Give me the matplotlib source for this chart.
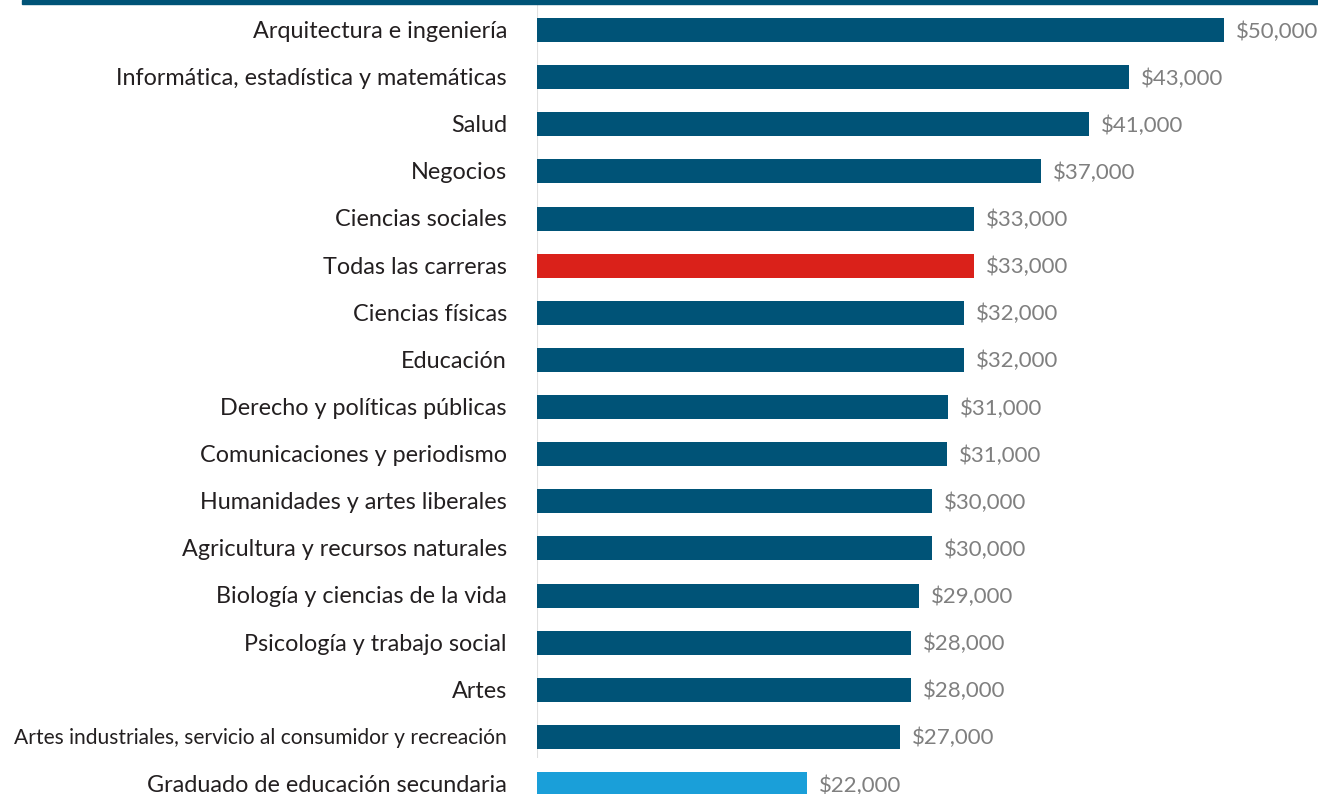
import matplotlib
matplotlib.use("Agg")
import matplotlib.pyplot as plt
from matplotlib.patches import Rectangle

categories = [
    "Arquitectura e ingeniería",
    "Informática, estadística y matemáticas",
    "Salud",
    "Negocios",
    "Ciencias sociales",
    "Todas las carreras",
    "Ciencias físicas",
    "Educación",
    "Derecho y políticas públicas",
    "Comunicaciones y periodismo",
    "Humanidades y artes liberales",
    "Agricultura y recursos naturales",
    "Biología y ciencias de la vida",
    "Psicología y trabajo social",
    "Artes",
    "Artes industriales, servicio al consumidor y recreación",
    "Graduado de educación secundaria",
]
# bar lengths as drawn in the picture
values = [50000, 43100, 40200, 36700, 31800, 31800, 31100, 31100, 29900, 29850,
          28750, 28750, 27800, 27200, 27200, 26400, 19650]
# value labels as printed
value_labels = ["$50,000", "$43,000", "$41,000", "$37,000", "$33,000", "$33,000",
                "$32,000", "$32,000", "$31,000", "$31,000", "$30,000", "$30,000",
                "$29,000", "$28,000", "$28,000", "$27,000", "$22,000"]

DARK = "#005377"
RED = "#da211a"
LIGHT = "#1a9fd9"
colors = [DARK] * len(categories)
colors[5] = RED
colors[-1] = LIGHT

W, H = 1318, 794
fig = plt.figure(figsize=(W / 100, H / 100), dpi=100)
x0 = 537
ax = fig.add_axes([x0 / W, 0, (W - x0) / W, 1])

px_per_unit = 687 / 50000
ax.set_xlim(0, (W - x0) / px_per_unit)
top_c, step = 30, 47.125
ax.set_ylim((H - top_c) / step, -top_c / step)

idx = list(range(len(categories)))
ax.barh(idx, values, height=24 / step, color=colors, zorder=2)

font = "Lato"
renderer = fig.canvas.get_renderer()
max_label_px = 495
for i, (v, lab, cat) in enumerate(zip(values, value_labels, categories)):
    ax.text(v + 12 / px_per_unit, i + 0.03, lab, va="center", ha="left",
            fontsize=16, color="#7f7f7f", family=font)
    t = ax.text(-30 / px_per_unit, i + 0.03, cat, va="center", ha="right",
                fontsize=16.8, color="#231f20", family=font, clip_on=False)
    wpx = t.get_window_extent(renderer=renderer).width
    if wpx > max_label_px:
        t.set_fontsize(16.8 * max_label_px / wpx)

for s in ax.spines.values():
    s.set_visible(False)
ax.set_xticks([])
ax.set_yticks([])

# vertical baseline
ax.plot([0, 0], [(5 - top_c) / step, (758 - top_c) / step], color="#e0e0e0",
        lw=1.5, zorder=1, solid_capstyle="butt")

# top rule
fig.patches.append(Rectangle((22 / W, 1 - 4 / H), (W - 22) / W, 4 / H,
                             transform=fig.transFigure, color=DARK))

fig.savefig("out.png", dpi=100)
